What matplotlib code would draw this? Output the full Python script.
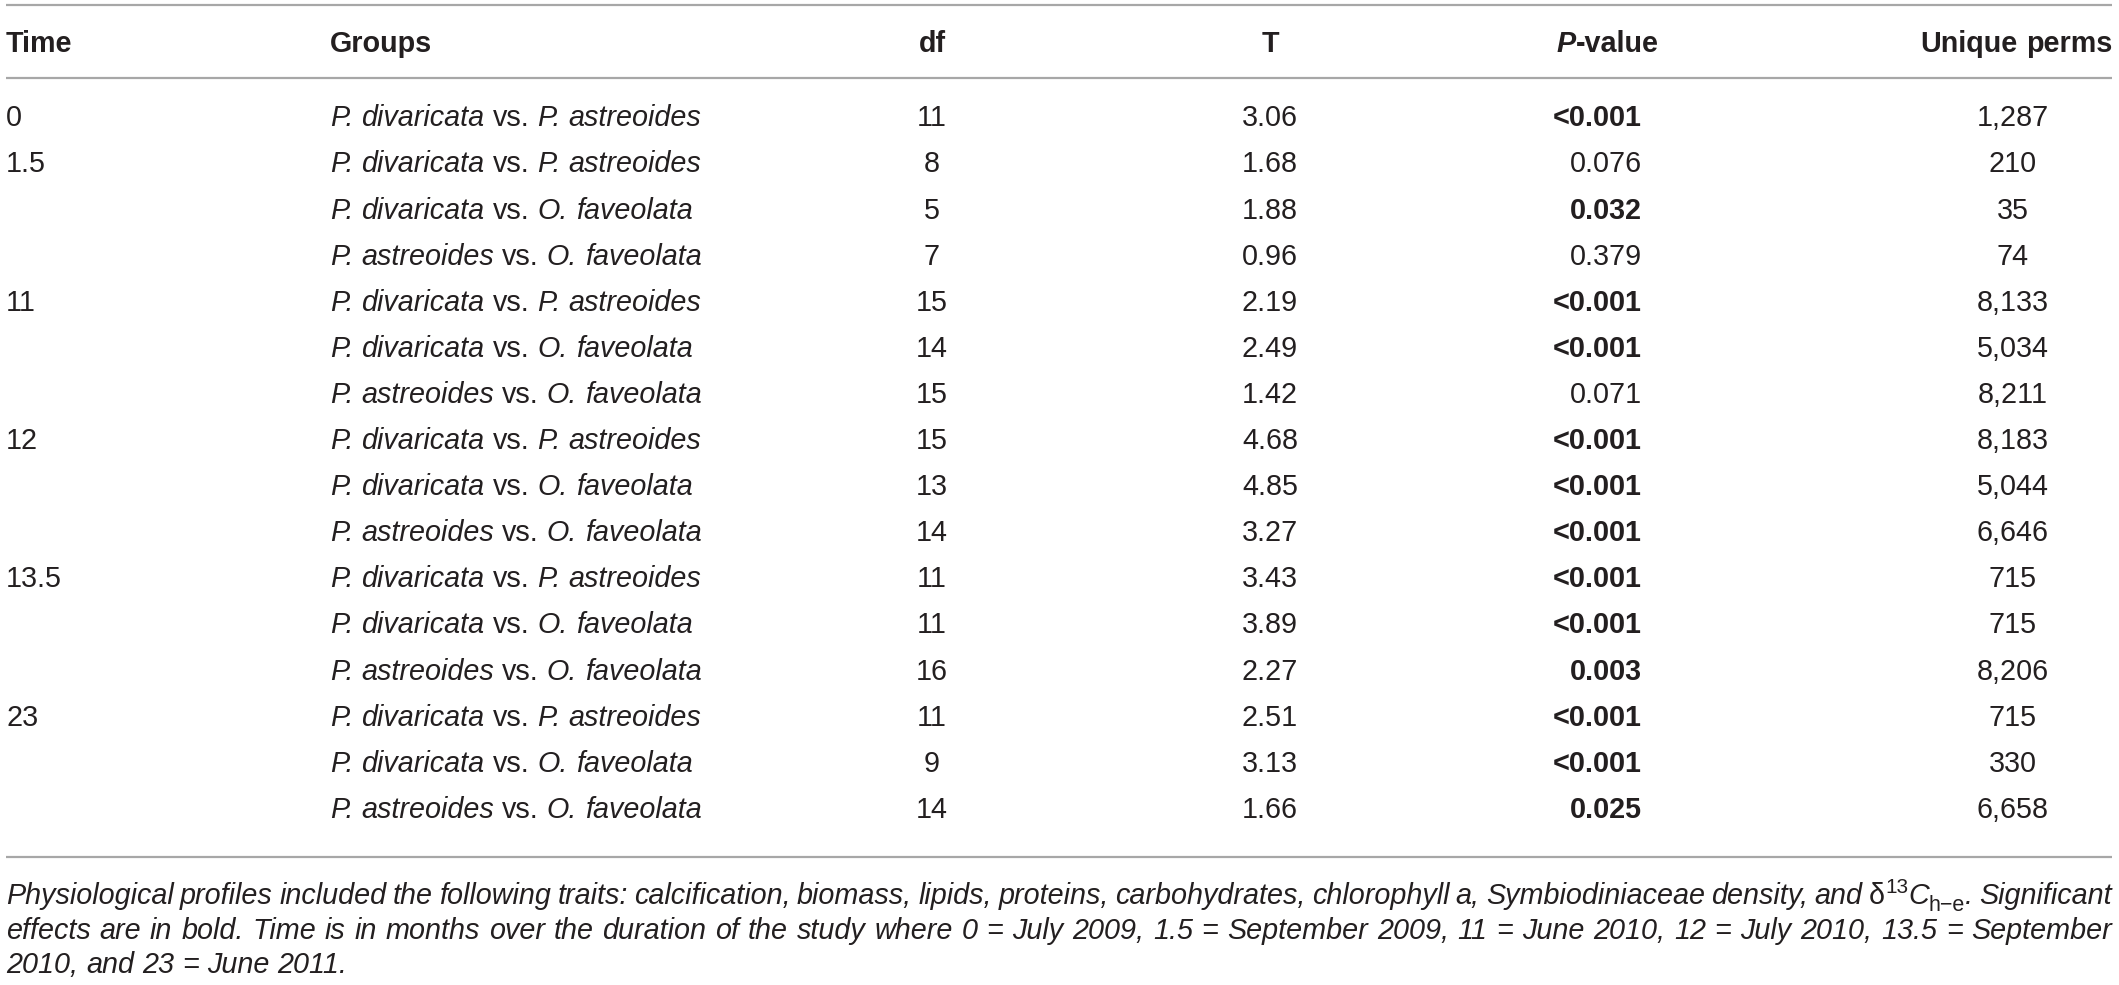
import matplotlib
matplotlib.use("Agg")
import matplotlib.pyplot as plt

plt.rcParams['font.family'] = ['Liberation Sans', 'DejaVu Sans']

PD, PA, OF = "P. divaricata", "P. astreoides", "O. faveolata"

# table data
header = ["Time", "Groups", "df", "T", "P-value", "Unique perms"]
row_time = ["0", "1.5", "", "", "11", "", "", "12", "", "", "13.5", "", "", "23", "", ""]
group_a = [PD, PD, PD, PA, PD, PD, PA, PD, PD, PA, PD, PD, PA, PD, PD, PA]
group_b = [PA, PA, OF, OF, PA, OF, OF, PA, OF, OF, PA, OF, OF, PA, OF, OF]
df_vals = [11, 8, 5, 7, 15, 14, 15, 15, 13, 14, 11, 11, 16, 11, 9, 14]
t_vals = [3.06, 1.68, 1.88, 0.96, 2.19, 2.49, 1.42, 4.68, 4.85, 3.27,
          3.43, 3.89, 2.27, 2.51, 3.13, 1.66]
p_vals = ["<0.001", "0.076", "0.032", "0.379", "<0.001", "<0.001", "0.071",
          "<0.001", "<0.001", "<0.001", "<0.001", "<0.001", "0.003",
          "<0.001", "<0.001", "0.025"]
perms = [1287, 210, 35, 74, 8133, 5034, 8211, 8183, 5044, 6646,
         715, 715, 8206, 715, 330, 6658]

W, H = 2119, 985
FS = 20.7
INK = '#231f20'
RULE = '#a7a7a7'

fig = plt.figure(figsize=(W / 100, H / 100), dpi=100)
ax = fig.add_axes([0, 0, 1, 1])
ax.set_xlim(0, W)
ax.set_ylim(H, 0)
ax.axis('off')
renderer = fig.canvas.get_renderer()


def props(style='normal', weight='normal', scale=1.0, dy=0.0):
    return dict(style=style, weight=weight, scale=scale, dy=dy)


def tkw(p):
    return dict(fontsize=FS * p['scale'], fontstyle=p['style'],
                fontweight=p['weight'], color=INK, va='baseline', ha='left')


def width(s, p):
    t = ax.text(0, 0, s, **tkw(p))
    w = t.get_window_extent(renderer).width
    t.remove()
    return w


def draw_runs(x, yc, runs, align='left', justify_to=None):
    # runs: list of (text, props); spaces become stretchable gaps
    tokens = []
    for text, p in runs:
        parts = text.split(" ")
        for i, part in enumerate(parts):
            if i > 0:
                tokens.append((None, p))
            if part:
                tokens.append((part, p))
    widths = []
    for s, p in tokens:
        if s is None:
            widths.append(width("a a", p) - width("aa", p))
        else:
            widths.append(width(s, p))
    total = sum(widths)
    if justify_to is not None:
        n_sp = sum(1 for s, _ in tokens if s is None)
        extra = (justify_to - x - total) / n_sp
        widths = [w + extra if s is None else w
                  for (s, _), w in zip(tokens, widths)]
        total = sum(widths)
    if align == 'center':
        x = x - total / 2
    elif align == 'right':
        x = x - total
    base = yc + FS * 1.389 * 0.36
    for (s, p), w in zip(tokens, widths):
        if s is not None:
            ax.text(x, base + p['dy'], s, **tkw(p))
        x += w


# layout (pixels)
y_top, y_head, y_head_rule = 5, 42, 78
y_row0, dy_row = 116, 46.1
y_bottom_rule = 857
y_note0, dy_note = 894, 34.5
x_left, x_right = 6, 2112
x_group, x_df, x_t, x_p, x_perm_c = 330, 932, 1270, 1642, 2013

for y in (y_top, y_head_rule, y_bottom_rule):
    ax.plot([x_left, x_right], [y, y], color=RULE, lw=1.6, solid_capstyle='butt')

B = props(weight='bold')
draw_runs(x_left, y_head, [(header[0], B)])
draw_runs(x_group, y_head, [(header[1], B)])
draw_runs(x_df, y_head, [(header[2], B)], align='center')
draw_runs(x_t, y_head, [(header[3], B)], align='center')
draw_runs(x_p + 17, y_head, [("P", props('italic', 'bold')), ("-value", B)], align='right')
draw_runs(x_right, y_head, [(header[5], B)], align='right')

R = props()
I = props('italic')
for i in range(len(df_vals)):
    y = y_row0 + i * dy_row
    draw_runs(x_left, y, [(row_time[i], R)])
    draw_runs(x_group, y, [(group_a[i], I), (" vs. ", R), (group_b[i], I)])
    draw_runs(x_df, y, [(str(df_vals[i]), R)], align='center')
    draw_runs(x_t, y, [(f"{t_vals[i]:.2f}", R)], align='center')
    sig = p_vals[i].startswith("<") or float(p_vals[i]) < 0.05
    draw_runs(x_p, y, [(p_vals[i], B if sig else R)], align='right')
    draw_runs(x_perm_c, y, [(f"{perms[i]:,}", R)], align='center')

note1 = [("Physiological profiles included the following traits: calcification, "
          "biomass, lipids, proteins, carbohydrates, chlorophyll a, Symbiodiniaceae "
          "density, and ", I),
         ("δ", R), ("13", props(scale=0.72, dy=-11)), ("C", I),
         ("h−e", props(scale=0.75, dy=7)), (". Significant", I)]
note2 = [("effects are in bold. Time is in months over the duration of the study "
          "where 0 = July 2009, 1.5 = September 2009, 11 = June 2010, "
          "12 = July 2010, 13.5 = September", I)]
note3 = [("2010, and 23 = June 2011.", I)]
draw_runs(x_left, y_note0, note1, justify_to=x_right)
draw_runs(x_left, y_note0 + dy_note, note2, justify_to=x_right)
draw_runs(x_left, y_note0 + 2 * dy_note, note3)

fig.savefig("out.png", dpi=100)
